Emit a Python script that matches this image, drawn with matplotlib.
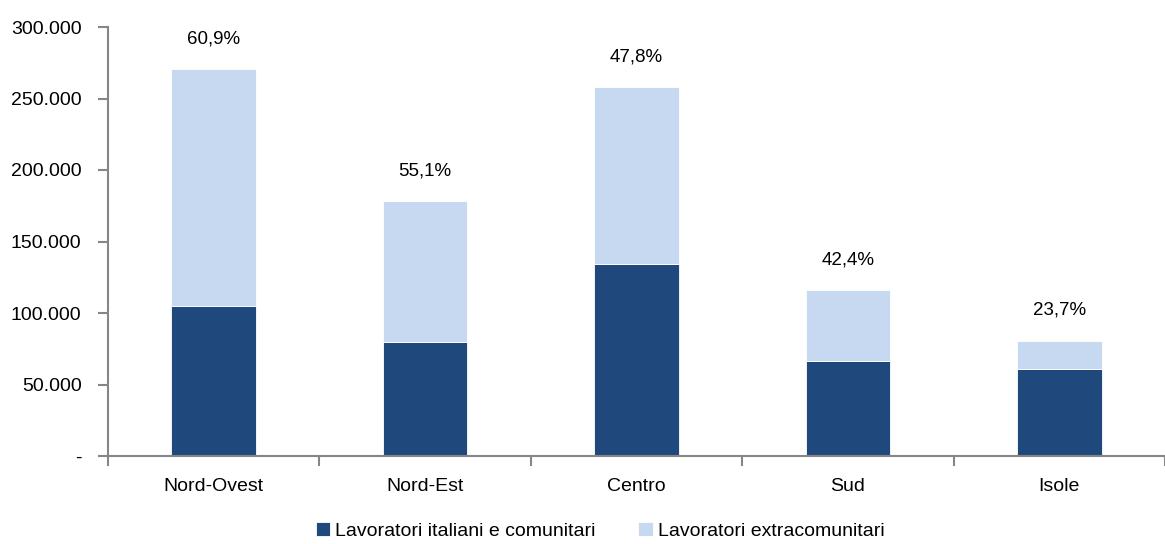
import matplotlib
matplotlib.use('Agg')
import matplotlib.pyplot as plt
import numpy as np

plt.rcParams['font.family'] = ['Liberation Sans', 'DejaVu Sans']

regioni = ['Nord-Ovest', 'Nord-Est', 'Centro', 'Sud', 'Isole']
italiani = [105000, 79500, 134500, 66500, 61000]
extra = [165500, 98500, 123500, 49500, 19500]
quota = ['60,9%', '55,1%', '47,8%', '42,4%', '23,7%']
ytick_vals = [0, 50000, 100000, 150000, 200000, 250000, 300000]
ytick_labels = ['-', '50.000', '100.000', '150.000', '200.000', '250.000', '300.000']

dark = '#1f497d'
light = '#c6d9f1'
grey = '#868686'

fig = plt.figure(figsize=(11.65, 5.44), dpi=100)
ax = fig.add_axes([108/1165, 88/544, 1 - 108/1165, (456-27)/544])

x = np.arange(len(regioni))
ax.bar(x, italiani, width=0.4, color=dark, edgecolor='white', linewidth=0.6,
       label='Lavoratori italiani e comunitari')
ax.bar(x, extra, width=0.4, bottom=italiani, color=light, edgecolor='white', linewidth=0.6,
       label='Lavoratori extracomunitari')

tot = np.array(italiani) + np.array(extra)
for i in range(len(regioni)):
    ax.annotate(quota[i], (x[i], tot[i]), xytext=(0, 22), textcoords='offset points',
                ha='center', va='center', fontsize=13.5)

ax.set_xlim(-0.5, 4.46)
ax.set_ylim(0, 300000)
ax.set_yticks(ytick_vals)
ax.set_yticklabels(ytick_labels, fontsize=14)
ax.set_xticks(x)
ax.set_xticklabels(regioni, fontsize=14)
ax.set_xticks(np.arange(-0.5, 4.6, 1), minor=True)
ax.tick_params(axis='x', which='major', length=0, pad=16)
ax.tick_params(axis='x', which='minor', length=7, color=grey, width=1.5)
ax.tick_params(axis='y', length=7, color=grey, width=1.5, pad=12)

for s in ['top', 'right']:
    ax.spines[s].set_visible(False)
for s in ['left', 'bottom']:
    ax.spines[s].set_color(grey)
    ax.spines[s].set_linewidth(1.5)

fig.legend(loc='lower center', bbox_to_anchor=(0.515, -0.025), ncol=2, frameon=False,
           fontsize=14, handlelength=0.75, handleheight=0.75, handletextpad=0.25,
           columnspacing=2.2)

fig.savefig('out.png', dpi=100)
